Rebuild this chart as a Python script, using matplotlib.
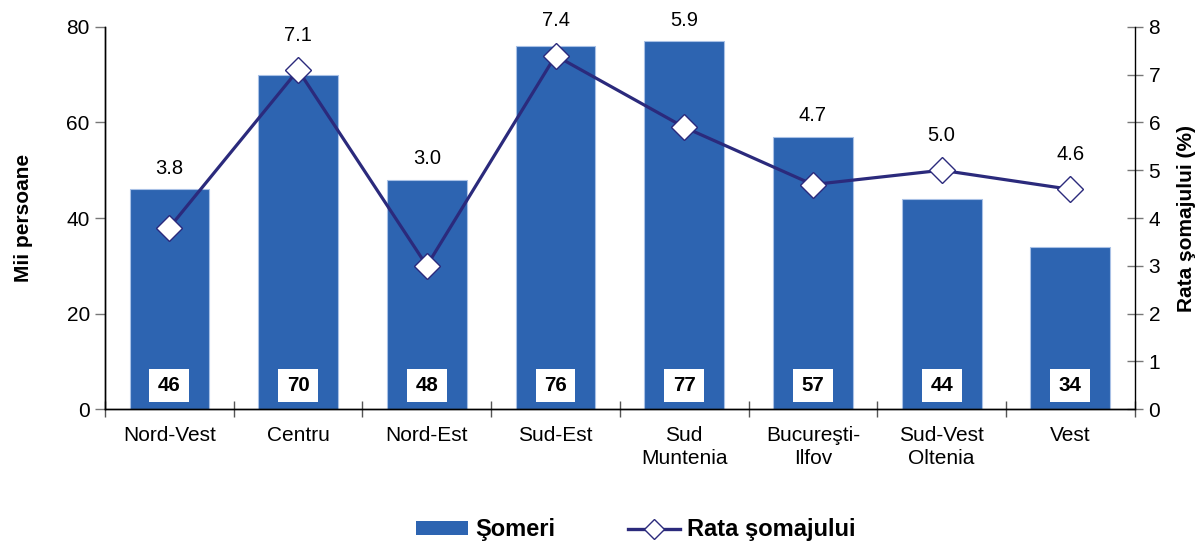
import matplotlib
matplotlib.use("Agg")
import matplotlib.pyplot as plt
import numpy as np
from matplotlib.lines import Line2D
from matplotlib.patches import Patch

plt.rcParams["font.family"] = ["Liberation Sans", "DejaVu Sans"]

regions = ["Nord-Vest", "Centru", "Nord-Est", "Sud-Est", "Sud\nMuntenia",
           "Bucureşti-\nIlfov", "Sud-Vest\nOltenia", "Vest"]
someri = [46, 70, 48, 76, 77, 57, 44, 34]
rata = [3.8, 7.1, 3.0, 7.4, 5.9, 4.7, 5.0, 4.6]

bar_color = "#2D64B1"
line_color = "#2B2A7C"

fig = plt.figure(figsize=(12.02, 5.45), dpi=100)
ax = fig.add_axes([0.0874, 0.2495, 0.944 - 0.0874, 0.9505 - 0.2495])
ax2 = ax.twinx()

x = np.arange(len(regions))
ax.bar(x, someri, width=0.62, color=bar_color, edgecolor="#A9C1E6", linewidth=0.8, zorder=2)

ax.set_xlim(-0.5, len(regions) - 0.5)
ax.set_ylim(0, 80)
ax.set_yticks([0, 20, 40, 60, 80])
ax2.set_ylim(0, 8)
ax2.set_yticks(range(0, 9))

# white value boxes inside the bars
ax.bar(x, 6.9, bottom=1.5, width=0.31, color="white", zorder=3)
for xi, v in zip(x, someri):
    ax.text(xi, 4.95, f"{v}", ha="center", va="center", fontsize=14.8,
            fontweight="bold", zorder=4)

# rate line
ax2.plot(x, rata, color=line_color, lw=2.3, marker="D", markersize=13,
         markerfacecolor="white", markeredgecolor=line_color, markeredgewidth=1.0, zorder=5)

# rate labels above bar or marker, whichever is higher
for xi, v, r in zip(x, someri, rata):
    ly = max(v / 10 + 0.44, r + 0.73)
    ax2.text(xi, ly, f"{r:.1f}", ha="center", va="center", fontsize=14.5, clip_on=False)

# x axis: ticks at category boundaries, labels at centres
ax.set_xticks(np.arange(-0.5, len(regions), 1.0))
ax.set_xticklabels([])
ax.set_xticks(x, minor=True)
ax.set_xticklabels(regions, minor=True, fontsize=15, linespacing=1.3)
ax.tick_params(axis="x", which="major", direction="inout", length=12, width=1, color="#555555")
ax.tick_params(axis="x", which="minor", length=0, pad=12)

ax.tick_params(axis="y", direction="out", length=7, width=1, color="#777777", labelsize=15, pad=4)
ax2.tick_params(axis="y", direction="inout", length=12, width=1, color="#777777", labelsize=15, pad=4)

for a in (ax, ax2):
    a.spines["top"].set_visible(False)
    for s in ("left", "right", "bottom"):
        a.spines[s].set_color("black")
        a.spines[s].set_linewidth(1.0)
ax.spines["right"].set_visible(False)

ax.set_ylabel("Mii persoane", fontsize=15, fontweight="bold", labelpad=24)
ax2.set_ylabel("Rata şomajului (%)", fontsize=15, fontweight="bold", labelpad=12)

handles = [Patch(facecolor=bar_color, edgecolor="none"),
           Line2D([0], [0], color=line_color, lw=2.4, marker="D", markersize=10,
                  markerfacecolor="white", markeredgecolor=line_color)]
fig.legend(handles, ["Şomeri", "Rata şomajului"], loc="center", bbox_to_anchor=(0.529, 0.028),
           ncol=2, frameon=False, handlelength=2.2, handleheight=0.55, handletextpad=0.3,
           columnspacing=3.1, prop={"weight": "bold", "size": 17})

fig.savefig("out.png", dpi=100)
